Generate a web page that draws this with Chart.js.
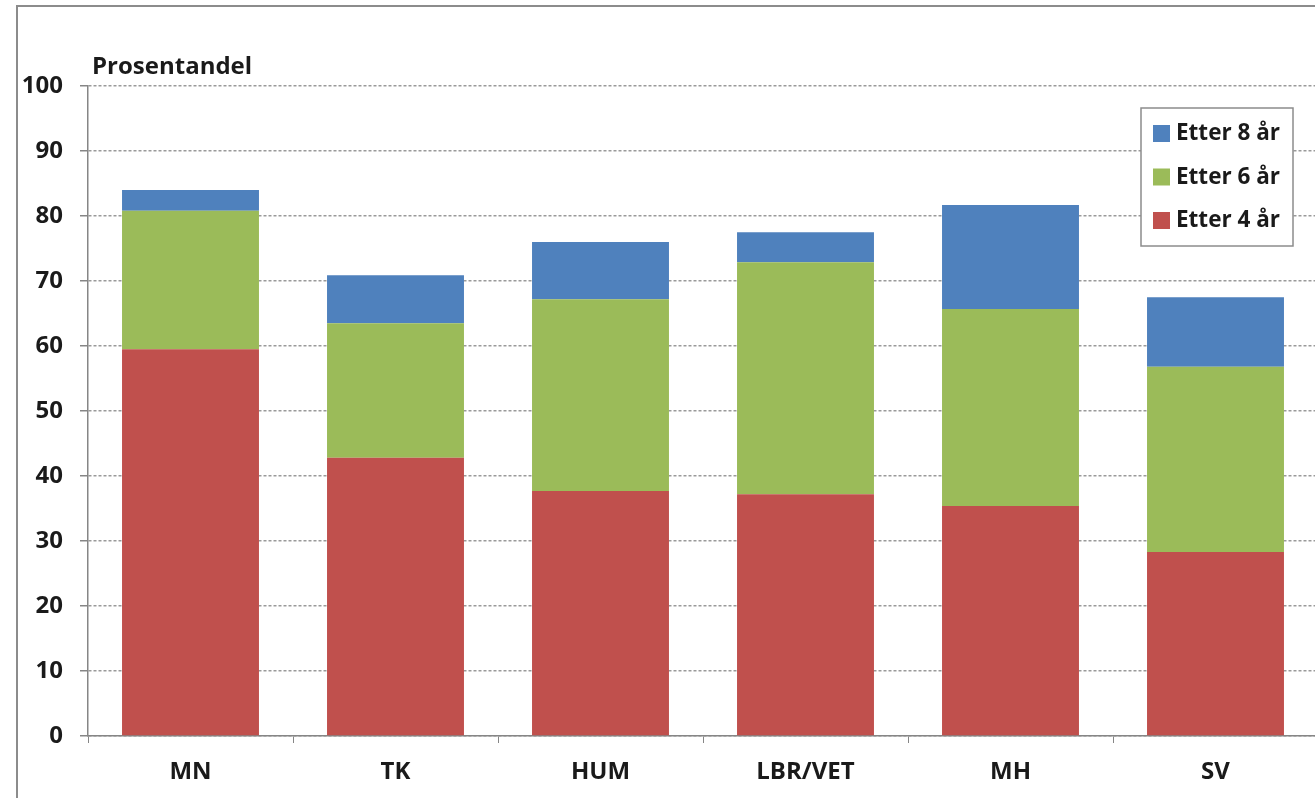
<!DOCTYPE html>
<html>
<head>
<meta charset="utf-8">
<script src="https://cdn.jsdelivr.net/npm/chart.js@4"></script>
<style>
  html, body { margin: 0; padding: 0; background: #fff; overflow: hidden; }
  #wrap { position: relative; width: 1330px; height: 798px; }
</style>
</head>
<body>
<div id="wrap"><canvas id="chart" width="1330" height="798"></canvas></div>
<script>
const categories = ["MN", "TK", "HUM", "LBR/VET", "MH", "SV"];
// each series is the extra share added on top of the previous one
const after4 = [59.5, 42.8, 37.7, 37.2, 35.4, 28.3];
const after6 = [21.3, 20.7, 29.5, 35.7, 30.3, 28.5];
const after8 = [3.2, 7.4, 8.8, 4.6, 16.0, 10.7];
const yTicks = [0, 10, 20, 30, 40, 50, 60, 70, 80, 90, 100];

const FONT = "'Open Sans'";
const axisGrey = "#868686";

// legend box drawn inside the plot, newest series first
const boxLegend = {
  id: "boxLegend",
  afterDraw(chart) {
    const ctx = chart.ctx;
    ctx.save();
    // outer frame of the picture
    ctx.strokeStyle = "#8c8c8c";
    ctx.lineWidth = 2;
    ctx.strokeRect(17, 6, 2000, 2000);

    const x = 1141, y = 108, w = 152, h = 138;
    ctx.fillStyle = "#fff";
    ctx.fillRect(x, y, w, h);
    ctx.strokeStyle = "#8c8c8c";
    ctx.lineWidth = 1.5;
    ctx.strokeRect(x, y, w, h);
    const sets = chart.data.datasets.slice().reverse();
    ctx.font = "bold 22.5px " + FONT;
    ctx.textBaseline = "middle";
    sets.forEach((ds, i) => {
      const cy = y + 25 + i * 43.5;
      ctx.fillStyle = ds.backgroundColor;
      ctx.fillRect(x + 12, cy - 8, 17, 17);
      ctx.fillStyle = "#1a1a1a";
      ctx.fillText(ds.label, x + 35, cy + 1);
    });
    // axis title
    ctx.font = "bold 24px " + FONT;
    ctx.textBaseline = "alphabetic";
    ctx.fillText("Prosentandel", 92, 74);
    ctx.restore();
  }
};

new Chart(document.getElementById("chart"), {
  type: "bar",
  data: {
    labels: categories,
    datasets: [
      { label: "Etter 4 år", data: after4, backgroundColor: "#C0504D" },
      { label: "Etter 6 år", data: after6, backgroundColor: "#9BBB59" },
      { label: "Etter 8 år", data: after8, backgroundColor: "#4F81BD" }
    ]
  },
  options: {
    responsive: false,
    animation: false,
    layout: { padding: { top: 86, right: 12, left: 0, bottom: 0 } },
    plugins: { legend: { display: false }, tooltip: { enabled: false } },
    datasets: { bar: { categoryPercentage: 1, barPercentage: 0.668 } },
    scales: {
      x: {
        stacked: true,
        offset: true,
        grid: { offset: true, drawOnChartArea: false, color: axisGrey, tickLength: 7 },
        border: { color: axisGrey, width: 1.5 },
        ticks: { color: "#1a1a1a", font: { family: FONT, size: 24, weight: "bold" }, padding: 15 },
        afterFit(s) { s.height = 62; }
      },
      y: {
        stacked: true,
        min: 0,
        max: 100,
        afterBuildTicks(s) { s.ticks = yTicks.map(v => ({ value: v })); },
        grid: { color: "#9a9a9a", lineWidth: 1.5, tickLength: 8, tickColor: axisGrey, tickBorderDash: [] },
        border: { color: axisGrey, width: 1.5, dash: [3, 2] },
        ticks: { color: "#1a1a1a", font: { family: FONT, size: 24, weight: "bold" }, padding: 17 },
        afterFit(s) { s.width = 88; }
      }
    }
  },
  plugins: [boxLegend]
});
</script>
</body>
</html>
